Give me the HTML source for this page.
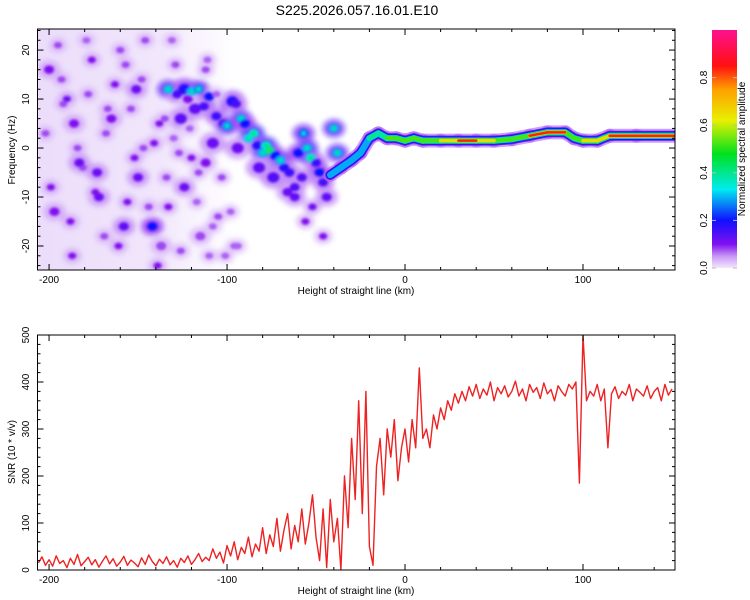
<!DOCTYPE html>
<html><head><meta charset="utf-8"><style>
body{margin:0;background:#fff;}
svg{display:block;font-family:"Liberation Sans",sans-serif;}
</style></head><body>
<svg id="c" width="750" height="600"></svg>
<script>
// ---------- data ----------
const snrStartKm = -206;
const snrStepKm = 2;
const snrValues = [15,28,10,22,8,30,14,20,5,25,12,33,9,18,27,11,22,6,19,30,13,24,8,17,29,10,21,15,7,26,12,32,18,9,23,14,28,11,20,6,25,16,30,12,22,35,18,27,
20,45,25,38,15,52,30,60,22,48,35,70,28,55,40,
90,35,75,50,110,40,85,120,45,95,60,130,55,100,160,
70,20,130,5,150,60,110,0,
200,90,280,150,360,120,380,50,10,
220,280,160,300,240,320,190,260,300,
230,320,260,430,280,300,
260,330,300,345,320,360,340,375,355,
380,360,390,370,395,365,385,372,400,360,388,375,392,368,380,402,370,385,360,395,378,388,365,398,375,384,360,392,380,370,395,385,
400,185,500,360,
380,370,395,360,385,260,375,390,365,380,372,395,360,385,378,370,392,365,380,388,360,395,372,385];
const xTicks = [-200,-100,0,100];
const freqTicks = [-20,-10,0,10,20];
const snrTicks = [0,100,200,300,400,500];
const cbTicks = [0.0,0.2,0.4,0.6,0.8];
// ridge: continuous band
const ridgeKm =  [-42,-36,-30,-25,-20,-15,-10,-5,0,5,10,20,30,40,50,60,70,80,90,95,100,108,115,130,152];
const ridgeHz =  [-5.5,-4,-2.5,-1,2,3,2,2,1.5,2,1.5,1.5,1.5,1.5,1.5,1.8,2.5,3.2,3.2,2,1.5,1.5,2.5,2.5,2.5];
const ridgeAmp = [0.3,0.35,0.35,0.3,0.4,0.45,0.55,0.6,0.5,0.55,0.5,0.7,0.88,0.88,0.72,0.5,0.82,0.87,0.87,0.6,0.8,0.78,0.88,0.9,0.9];
// scattered blobs: km, Hz, amp, radius px
const blobKm = [-133,-128,-124,-120,-116,-113,-110,-106,-102,-100,-97,-95,-92,-90,-88,-85,-83,-80,-78,-76,-73,-70,-68,-65,-62,-60,-57,-55,-53,-50,-48,-46,-44,-58,-62,-52,-40,-38,-118,-108,-94,-82,-74,-66,-56,-46,-126,-112,
-200,-195,-190,-186,-181,-176,-172,-168,-163,-158,-154,-150,-146,-141,-137,-133,-129,-124,-120,-115,-110,-105,
-202,-197,-192,-187,-183,-178,-174,-169,-165,-160,-156,-151,-147,-142,-138,-134,-130,-126,-122,-117,-112,-108,-103,-98,-94,
-199,-193,-188,-184,-179,-173,-167,-161,-157,-152,-148,-144,-139,-135,-131,-127,-121,-116,-111,-106,-101,-96];
const blobHz = [12,11,12,11.5,12,8.5,10.5,6.5,5,4.5,9.5,9,6,5,2,3,0.5,-1,0.5,-0.5,-1.5,-2.5,-4,-5,-8,-1,3,0,-2,-3,-5,-7,-10,-6,-10,-12,4,-1,8,1,0,-4,-6,-9,-15,-18,6,-3,
16,21,10,5,-4,18,-10,3,13,-16,8,-6,22,1,-20,-12,17,-8,-2,-18,-22,-14,
3,-13,9,-22,-3,11,-9,-18,6,20,-11,12,0,-16,5,-6,2,-21,10,-11,16,-16,-6,-13,-20,
-8,14,-15,0,22,-5,8,-20,17,-2,14,-12,-24,6,22,-1,4,-5,18,11,-22,-20];
const blobAmp = [0.3,0.15,0.18,0.3,0.28,0.15,0.2,0.16,0.14,0.28,0.18,0.15,0.3,0.2,0.32,0.35,0.18,0.3,0.35,0.4,0.2,0.3,0.18,0.16,0.14,0.2,0.25,0.3,0.35,0.16,0.2,0.15,0.13,0.14,0.13,0.12,0.3,0.3,0.13,0.12,0.12,0.13,0.14,0.12,0.1,0.1,0.13,0.1,
0.1,0.08,0.12,0.1,0.08,0.1,0.12,0.08,0.1,0.13,0.08,0.12,0.08,0.1,0.08,0.1,0.08,0.12,0.1,0.08,0.07,0.08,
0.08,0.1,0.08,0.1,0.12,0.08,0.1,0.08,0.1,0.08,0.1,0.12,0.08,0.2,0.1,0.08,0.07,0.08,0.1,0.07,0.08,0.07,0.08,0.07,0.07,
0.1,0.08,0.1,0.08,0.07,0.12,0.08,0.1,0.08,0.1,0.08,0.08,0.1,0.08,0.07,0.08,0.07,0.08,0.07,0.07,0.07,0.07];
const blobR = [5,5,6,5,5,5,5,5,5,5,6,5,5,5,5,5,5,5,5,5,5,5,5,5,5,5,5,5,5,5,5,5,5,5,5,4,5,5,6,6,6,6,6,5,4,4,6,5,
5,4,4,5,4,4,5,4,4,5,4,5,4,4,5,4,4,5,4,5,4,4,
4,5,4,4,5,4,4,4,5,4,4,5,4,5,4,4,4,4,5,4,4,4,4,4,4,
4,4,4,4,4,5,4,4,4,4,4,4,4,4,4,4,4,4,4,4,4,4];

// ---------- helpers ----------
const NS='http://www.w3.org/2000/svg';
const svg=document.getElementById('c');
function mk(tag,attrs,parent){const e=document.createElementNS(NS,tag);for(const k in attrs)e.setAttribute(k,attrs[k]);(parent||svg).appendChild(e);return e;}
const PL=37.5,PR=675;
const kmMin=-206.5,kmMax=151.7;
const xs=km=>PL+(km-kmMin)/(kmMax-kmMin)*(PR-PL);
const T1=29,B1=270, hzTop=24.3, hzBot=-24.9;
const ysTop=hz=>T1+(hzTop-hz)/(hzTop-hzBot)*(B1-T1);
const T2=335,B2=570;
const ysBot=v=>B2-(v/500)*(B2-T2);
const stops=[[0,[244,232,255]],[0.05,[200,150,245]],[0.1,[128,16,240]],[0.2,[16,16,255]],[0.33,[0,235,240]],[0.48,[0,225,30]],[0.62,[232,240,0]],[0.75,[255,160,0]],[0.85,[255,16,16]],[1,[255,16,144]]];
function cmap(a){a=Math.max(0,Math.min(1,a));for(let i=1;i<stops.length;i++){if(a<=stops[i][0]){const[t0,c0]=stops[i-1],[t1,c1]=stops[i];const f=(a-t0)/(t1-t0);return 'rgb('+c0.map((c,j)=>Math.round(c+(c1[j]-c)*f)).join(',')+')';}}return 'rgb(255,16,144)';}

// title
const titleEl=mk('text',{x:357,y:15,'text-anchor':'middle','font-size':14,fill:'#000'});
titleEl.textContent='S225.2026.057.16.01.E10';



// ---------- top panel ----------
const clip=mk('clipPath',{id:'cp1'});mk('rect',{x:PL,y:T1,width:PR-PL,height:B1-T1},clip);
const topG=mk('g',{'clip-path':'url(#cp1)'});


const defs=mk('defs',{});
const lg=mk('linearGradient',{id:'noiseg',x1:0,x2:1,y1:0,y2:0},defs);
mk('stop',{offset:0,'stop-color':'#dcc2f7','stop-opacity':0.55},lg);
mk('stop',{offset:0.6,'stop-color':'#e0c8f7','stop-opacity':0.45},lg);
mk('stop',{offset:1,'stop-color':'#eadcfa','stop-opacity':0},lg);
const bf=mk('filter',{id:'blur1'},defs);mk('feGaussianBlur',{stdDeviation:1.2},bf);
const bf2=mk('filter',{id:'blur2'},defs);mk('feGaussianBlur',{stdDeviation:3},bf2);
const nf=mk('rect',{x:xs(-206.5),y:T1,width:xs(-92)-xs(-206.5),height:B1-T1,fill:'url(#noiseg)'},topG);


const hg=mk('g',{filter:'url(#blur2)',opacity:0.7},topG);
const bg=mk('g',{filter:'url(#blur1)'},topG);
for(let i=0;i<blobKm.length;i++){
  const a=blobAmp[i];
  const h=mk('ellipse',{cx:xs(blobKm[i]),cy:ysTop(blobHz[i]),rx:blobR[i]*2.2,ry:blobR[i]*1.8,fill:cmap(a*0.5)},hg);
  
  
  const b=mk('ellipse',{cx:xs(blobKm[i]),cy:ysTop(blobHz[i]),rx:blobR[i],ry:blobR[i]-0.8,fill:cmap(a)},bg);
  
  
  if(a>=0.25){const c=mk('circle',{cx:xs(blobKm[i]),cy:ysTop(blobHz[i]),r:2,fill:cmap(a+0.1)},bg);
    
    }
}
// ridge band layers
const levels=[[0.05,14],[0.1,10],[0.18,8],[0.27,6.5],[0.37,5.5],[0.5,4.5],[0.64,3.5],[0.82,2.5]];
const rg=mk('g',{'stroke-linecap':'round',fill:'none'},topG);


for(const [lv,w] of levels){
  for(let i=0;i<ridgeKm.length-1;i++){
    const a=Math.min(ridgeAmp[i],ridgeAmp[i+1]);
    if(a<lv)continue;
    const s=mk('line',{x1:xs(ridgeKm[i]),y1:ysTop(ridgeHz[i]),x2:xs(ridgeKm[i+1]),y2:ysTop(ridgeHz[i+1]),stroke:cmap(lv+0.02),'stroke-width':w,opacity:lv<0.08?0.6:1},rg);
    
    
  }
}
function drawFrame(T,B,name){
  const r=mk('rect',{x:PL,y:T,width:PR-PL,height:B-T,fill:'none',stroke:'#000','stroke-width':1});
  
  
  for(let k=-200;k<=150;k+=20){
    const len=(k%100===0)?6:3;
    mk('line',{x1:xs(k),x2:xs(k),y1:T,y2:T+len,stroke:'#000'});
    mk('line',{x1:xs(k),x2:xs(k),y1:B,y2:B-len,stroke:'#000'});
  }
  xTicks.forEach(k=>{const t=mk('text',{x:xs(k),y:B+13,'text-anchor':'middle','font-size':10});t.textContent=String(k);
    
    });
  const xl=mk('text',{x:356,y:B+24,'text-anchor':'middle','font-size':10});xl.textContent='Height of straight line (km)';
  
  
}
drawFrame(T1,B1,'spectrogram-frame');
for(let h=-24;h<=24;h+=2){const len=(h%10===0)?6:3;mk('line',{x1:PL,x2:PL+len,y1:ysTop(h),y2:ysTop(h),stroke:'#000'});mk('line',{x1:PR,x2:PR-len,y1:ysTop(h),y2:ysTop(h),stroke:'#000'});}
freqTicks.forEach(h=>{const t=mk('text',{transform:`translate(29,${ysTop(h)}) rotate(-90)`,'text-anchor':'middle','font-size':10});t.textContent=h;
  
  });
const yl1=mk('text',{transform:`translate(15,150) rotate(-90)`,'text-anchor':'middle','font-size':10});yl1.textContent='Frequency (Hz)';



// colorbar
const CBT=30,CBB=268,CBL=712,CBR=737;
const cg=mk('linearGradient',{id:'cbg',x1:0,x2:0,y1:1,y2:0},defs);
stops.forEach(s=>mk('stop',{offset:s[0],'stop-color':cmap(s[0])},cg));
const cb=mk('rect',{x:CBL,y:CBT,width:CBR-CBL,height:CBB-CBT,fill:'url(#cbg)'});


const cby=v=>CBB-v*(CBB-CBT);
cbTicks.forEach(v=>{
  const t=mk('text',{transform:`translate(707,${cby(v)}) rotate(-90)`,'text-anchor':'middle','font-size':10});t.textContent=v.toFixed(1);
  
  
  mk('line',{x1:CBL,x2:CBL+4,y1:cby(v),y2:cby(v),stroke:'#bbb'});mk('line',{x1:CBR,x2:CBR-4,y1:cby(v),y2:cby(v),stroke:'#bbb'});
});
const cbl=mk('text',{transform:`translate(745,149) rotate(-90)`,'text-anchor':'middle','font-size':10});cbl.textContent='Normalized spectral amplitude';



// ---------- bottom panel ----------
const clip2=mk('clipPath',{id:'cp2'});mk('rect',{x:PL,y:T2,width:PR-PL,height:B2-T2},clip2);
let d='';
snrValues.forEach((v,i)=>{const km=snrStartKm+i*snrStepKm;d+=(i?'L':'M')+xs(km).toFixed(1)+','+ysBot(v).toFixed(1);});
const snrLine=mk('path',{d:d,fill:'none',stroke:'#ee2222','stroke-width':1.4,'clip-path':'url(#cp2)','stroke-linejoin':'round'});


drawFrame(T2,B2,'snr-frame');
for(let v=0;v<=500;v+=20){const len=(v%100===0)?6:3;mk('line',{x1:PL,x2:PL+len,y1:ysBot(v),y2:ysBot(v),stroke:'#000'});mk('line',{x1:PR,x2:PR-len,y1:ysBot(v),y2:ysBot(v),stroke:'#000'});}
snrTicks.forEach(v=>{const t=mk('text',{transform:`translate(29,${ysBot(v)}) rotate(-90)`,'text-anchor':'middle','font-size':10});t.textContent=v;
  
  });
const yl2=mk('text',{transform:`translate(15,452) rotate(-90)`,'text-anchor':'middle','font-size':10});yl2.textContent='SNR (10 * v/v)';


</script>
</body></html>
